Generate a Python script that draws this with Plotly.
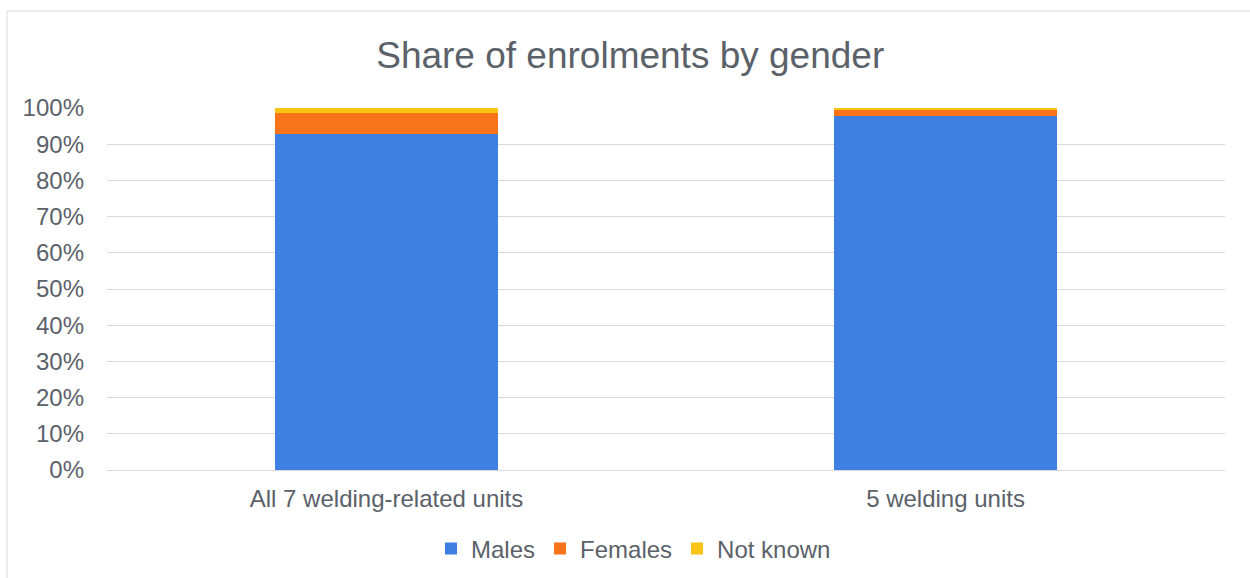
import plotly.graph_objects as go

# Enrolment share by gender (fractions of 1)
categories = ["All 7 welding-related units", "5 welding units"]
males = [0.927, 0.978]
females = [0.059, 0.018]
not_known = [0.014, 0.004]

y_ticks = [i / 10 for i in range(11)]
y_tick_labels = [f"{i * 10}%" for i in range(11)]

font_family = "Liberation Sans, Arial, sans-serif"
text_grey = "#5B6169"

fig = go.Figure()
for name, vals, color in [
    ("Males", males, "#3E80E1"),
    ("Females", females, "#F9731B"),
    ("Not known", not_known, "#F9C416"),
]:
    fig.add_trace(go.Bar(
        x=categories, y=vals, name=name,
        marker=dict(color=color, line=dict(width=0)),
        width=0.4,
    ))

fig.update_layout(
    barmode="stack",
    width=1250, height=578,
    margin=dict(l=107, r=25, t=108, b=108, autoexpand=False),
    paper_bgcolor="white", plot_bgcolor="white",
    font=dict(family=font_family, color=text_grey, size=24),
    title=dict(
        text="Share of enrolments by gender",
        x=0.468, xref="paper", xanchor="center",
        y=1 - 55 / 578, yref="container", yanchor="middle",
        font=dict(size=37, color=text_grey, family=font_family),
    ),
    xaxis=dict(
        showgrid=False, showline=True, linecolor="#D9D9D9", linewidth=1,
        tickfont=dict(size=24, color=text_grey),
        ticklabelstandoff=7,
    ),
    yaxis=dict(
        range=[0, 1], tickvals=y_ticks, ticktext=y_tick_labels,
        showgrid=True, gridcolor="#D9D9D9", gridwidth=1,
        zeroline=False, showline=False,
        tickfont=dict(size=24, color=text_grey),
        ticklabelstandoff=22,
    ),
    legend=dict(
        orientation="h", x=(431 - 107) / 1118, xanchor="left",
        y=-0.218, yanchor="middle",
        font=dict(size=24, color=text_grey),
        traceorder="normal", itemwidth=30,
    ),
    shapes=[dict(
        type="rect", xref="paper", yref="paper",
        x0=(7 - 107) / 1118, x1=1.2, y0=-0.6, y1=(470 - 11) / 362,
        line=dict(color="#D9D9D9", width=1), fillcolor="rgba(0,0,0,0)",
        layer="below",
    )],
)

fig.write_html("out.html")
